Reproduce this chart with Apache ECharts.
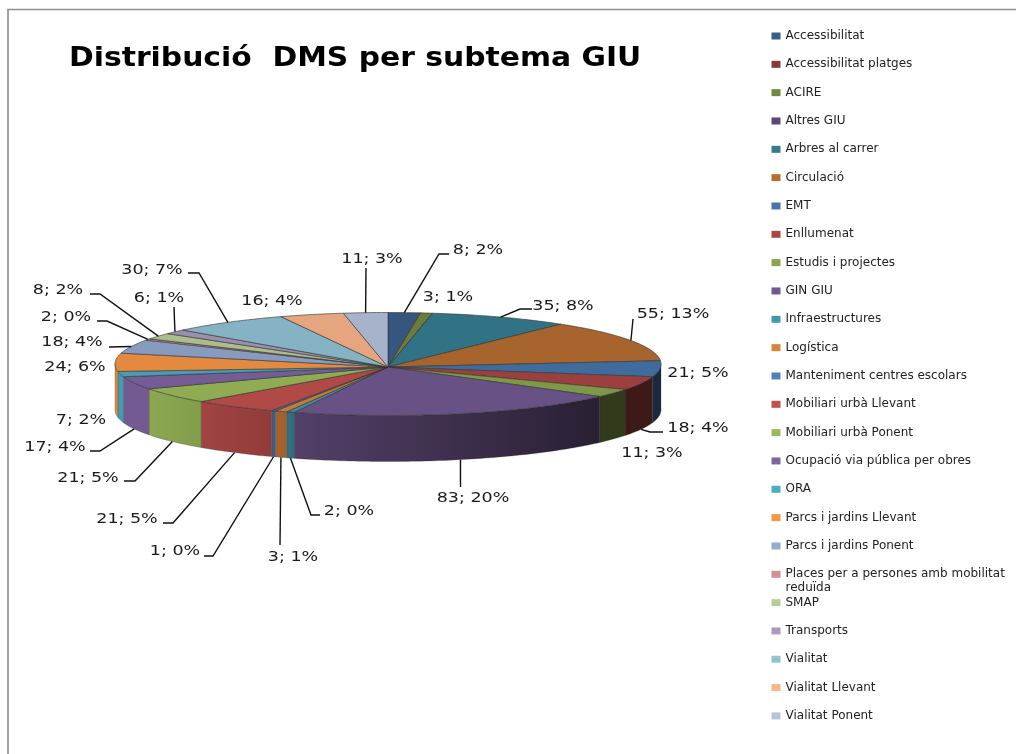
<!DOCTYPE html>
<html><head><meta charset="utf-8">
<style>html,body{margin:0;padding:0;background:#fff}#c{width:1016px;height:754px}</style>
<script src="https://cdn.jsdelivr.net/npm/echarts@6/dist/echarts.min.js"></script>
</head><body><div id="c"></div>
<script>
const chartTitle = 'Distribució  DMS per subtema GIU';
const categories = ['Accessibilitat','Accessibilitat platges','ACIRE','Altres GIU','Arbres al carrer','Circulació','EMT','Enllumenat','Estudis i projectes','GIN GIU','Infraestructures','Logística','Manteniment centres escolars','Mobiliari urbà Llevant','Mobiliari urbà Ponent','Ocupació via pública per obres','ORA','Parcs i jardins Llevant','Parcs i jardins Ponent','Places per a persones amb mobilitat reduïda','SMAP','Transports','Vialitat','Vialitat Llevant','Vialitat Ponent'];
const values = [8,0,3,0,35,55,21,18,11,83,2,3,1,21,21,17,7,24,18,2,8,6,30,16,11];
const palette = ['#385D8A','#8C3836','#71893F','#5C4776','#357D91','#B66D31','#4675AB','#AA4644','#89A54E','#71588F','#4198AF','#DB843D','#4F81BD','#C0504D','#9BBB59','#8064A2','#4BACC6','#F79646','#93A9CF','#D19392','#B9CD96','#A99BBD','#91C3D5','#F9B48A','#B6C3DC'];

// label layout, by category index: label centre and leader-line bends
const labelLayout = [
 {at:[478,250],line:[[439,254],[449,254]]}, null,
 {at:[448,297]}, null,
 {at:[563,306],line:[[520,309],[532,309]]},
 {at:[673,314],line:[[633,319]]},
 {at:[698,373]},
 {at:[698,428],line:[[650,432],[663,432]]},
 {at:[652,453]},
 {at:[473,498],line:[[460.5,487]]},
 {at:[349,511],line:[[311,515],[320,515]]},
 {at:[293,557],line:[[280,545]]},
 {at:[175,551],line:[[213,556],[204,556]]},
 {at:[127,519],line:[[173,523],[163,523]]},
 {at:[88,478],line:[[135,481],[124,481]]},
 {at:[55,447],line:[[100,451],[90,451]]},
 {at:[81,420]},
 {at:[75,367]},
 {at:[72,342],line:[[109,347]]},
 {at:[66,317],line:[[107,321],[97,321]]},
 {at:[58,290],line:[[100,294],[90,294]]},
 {at:[159,298],line:[[174,307]]},
 {at:[152,270],line:[[199,273],[188,273]]},
 {at:[272,301]},
 {at:[372,259],line:[[366,268]]}
];

const FONT = '"DejaVu Sans", Verdana, sans-serif';
const CX = 388, CY = 364, RX = 273, RY = 51.5, DEPTH = 46, APEX_DY = 3;
const total = values.reduce((a,b)=>a+b,0);
const cum = []; values.reduce((a,v,i)=>{cum[i]=a;return a+v;},0);
const ang = v => v/total*360;
const rim = (deg,dy=0) => { const r=deg*Math.PI/180; return [CX+RX*Math.sin(r), CY-RY*Math.cos(r)+dy]; };

function shade(hex,k){
  const n=parseInt(hex.slice(1),16);
  const c=[n>>16,(n>>8)&255,n&255].map(v=>Math.round(Math.min(255,v*k)));
  return `rgb(${c[0]},${c[1]},${c[2]})`;
}
const sideShade = x => Math.max(0.36, Math.min(0.9, 0.9-(x-150)/440*0.53));
const TOP_SHADE = 0.92;

function renderSlice(i){
  return function(params, api){
    const children=[], color=palette[i];
    const a0=ang(cum[i]), a1=ang(cum[i]+values[i]);
    const s0=Math.max(a0,90), s1=Math.min(a1,270);
    if(s1>s0){
      const up=[],down=[];
      for(let a=s0;;a=Math.min(a+1,s1)){ up.push(rim(a)); down.unshift(rim(a,DEPTH)); if(a>=s1)break; }
      const xs=up.map(p=>p[0]), xa=Math.min(...xs), xb=Math.max(...xs);
      children.push({type:'polygon',z2:1,shape:{points:up.concat(down)},style:{
        fill:new echarts.graphic.LinearGradient(0,0,1,0,[{offset:0,color:shade(color,sideShade(xa))},{offset:1,color:shade(color,sideShade(xb))}]),
        stroke:'rgba(40,40,40,0.35)',lineWidth:0.7}});
    }
    const pts=[[CX,CY+APEX_DY]];
    for(let a=a0;;a=Math.min(a+1,a1)){ pts.push(rim(a)); if(a>=a1)break; }
    const mid=(a0+a1)/2;
    children.push({type:'polygon',z2:2,shape:{points:pts},style:{
      fill:shade(color,TOP_SHADE),
      stroke:values[i]===0?color:'rgba(50,50,50,0.6)',lineWidth:1}});
    const lay=labelLayout[i];
    if(lay){
      if(lay.line){
        const start=rim(mid,(mid>90&&mid<270)?DEPTH:0);
        children.push({type:'polyline',z2:50,shape:{points:[start].concat(lay.line)},style:{fill:null,stroke:'#111',lineWidth:1.4}});
      }
      const pct=Math.round(values[i]/total*100);
      children.push({type:'text',z2:60,x:lay.at[0],y:lay.at[1],scaleX:1.25,style:{
        x:0,y:0,text:values[i]+'; '+pct+'%',fill:'#1a1a1a',fontSize:14,fontFamily:FONT,
        align:'center',verticalAlign:'middle',textAlign:'center',textVerticalAlign:'middle'}});
    }
    return {type:'group',children};
  };
}

const chart=echarts.init(document.getElementById('c'),null,{renderer:'canvas'});
chart.setOption({
  animation:false,
  backgroundColor:'#fff',
  textStyle:{fontFamily:FONT},
  legend:{
    orient:'vertical',left:771.5,top:29,padding:0,selectedMode:false,
    icon:'rect',itemWidth:9,itemHeight:7,itemGap:14.33,
    data:categories.map(n=>({name:n,itemStyle:{borderWidth:0}})),
    formatter:n=>n.replace(' reduïda',''),
    textStyle:{fontFamily:FONT,fontSize:12,lineHeight:14,color:'#222'}
  },
  graphic:[
    {type:'rect',silent:true,shape:{x:8,y:9.5,width:1200,height:900},style:{fill:null,stroke:'#8f8f8f',lineWidth:1.6}},
    {type:'text',silent:true,x:69,y:59,scaleX:1.146,style:{text:chartTitle,fontFamily:FONT,fontWeight:'bold',fontSize:26,fill:'#000',verticalAlign:'middle',textVerticalAlign:'middle'}},
    {type:'text',silent:true,x:785.5,y:588,style:{text:'reduïda',fontFamily:FONT,fontSize:12,fill:'#222',verticalAlign:'middle',textVerticalAlign:'middle'}}
  ],
  series:categories.map((name,i)=>({
    type:'custom',name,coordinateSystem:'none',silent:true,
    itemStyle:{color:palette[i]},
    data:[values[i]],
    renderItem:renderSlice(i)
  }))
});
</script></body></html>
